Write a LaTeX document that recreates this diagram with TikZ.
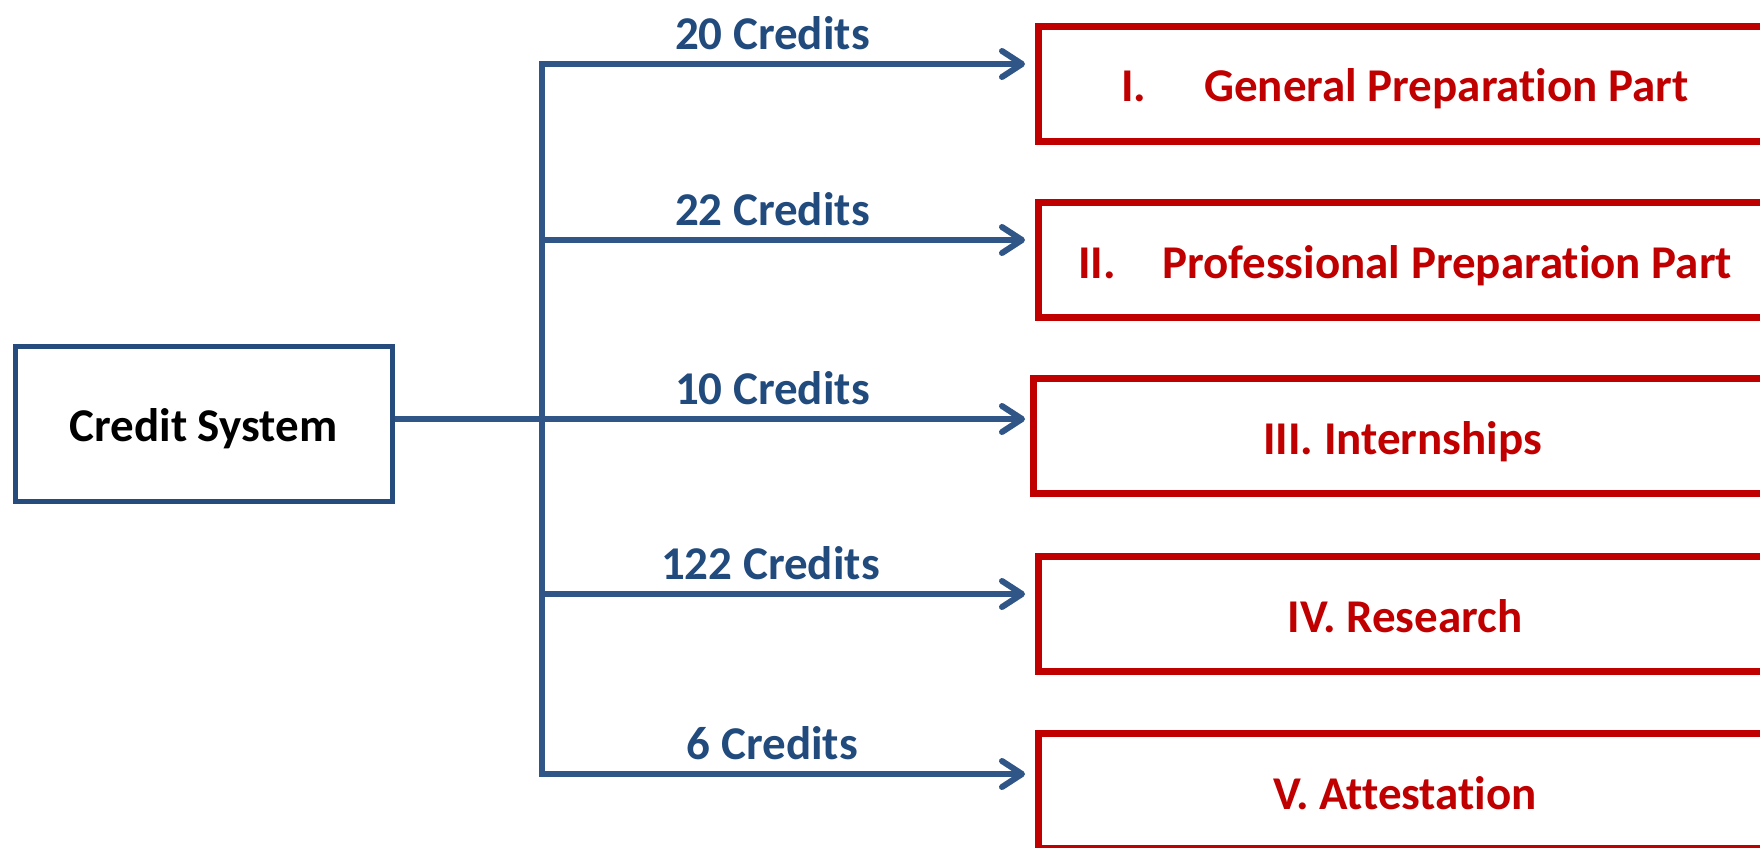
\documentclass[tikz,border=0pt]{standalone}
\usepackage{fontspec}
\setmainfont{Carlito}[Ligatures={NoCommon}]
\usetikzlibrary{arrows.meta}
\definecolor{navy}{RGB}{37,76,124}
\definecolor{conncol}{RGB}{48,86,136}
\definecolor{lblcol}{RGB}{33,74,125}
\definecolor{darkred}{RGB}{192,0,0}
\tikzset{
  bigfont/.style={font=\fontsize{47}{56}\selectfont\bfseries},
  srcbox/.style={draw=navy, line width=5pt, rectangle, minimum width=377pt, minimum height=155pt, inner sep=0pt, text height=36pt, text depth=0pt, bigfont, text=black},
  partbox/.style={draw=darkred, line width=7pt, rectangle, minimum height=115pt, inner sep=0pt, text height=36pt, text depth=0pt, bigfont, text=darkred},
  conn/.style={draw=conncol, line width=6pt},
  arr/.style={conn, -{Straight Barb[length=20pt, width=26pt, line cap=round, line join=round]}},
  lbl/.style={bigfont, text=lblcol, anchor=base, yshift=15pt, inner sep=0pt}
}
\begin{document}
\begin{tikzpicture}[x=1pt, y=-1pt]
\useasboundingbox (0,0) rectangle (1760,847);
\clip (0,0) rectangle (1760,847);
% source
\node[srcbox] (cs) at (203.5,423.5) {Credit System};
% target boxes
\node[partbox, minimum width=734pt] (b1) at (1405,83.5) {\makebox[83pt][l]{I.}General Preparation Part};
\node[partbox, minimum width=734pt] (b2) at (1405,260) {\makebox[84pt][l]{II.}Professional Preparation Part};
\node[partbox, minimum width=739pt] (b3) at (1402.5,436) {III. Internships};
\node[partbox, minimum width=734pt] (b4) at (1405,614) {IV. Research};
\node[partbox, minimum width=734pt] (b5) at (1405,791) {V. Attestation};
% junctions on the trunk
\coordinate (v1) at (542,64);
\coordinate (v2) at (542,240);
\coordinate (v3) at (542,419);
\coordinate (v4) at (542,594);
\coordinate (v5) at (542,774);
% arrow tips
\coordinate (t1) at (1025,64);
\coordinate (t2) at (1025,240);
\coordinate (t3) at (1025,419);
\coordinate (t4) at (1025,594);
\coordinate (t5) at (1025,774);
% trunk
\draw[conn, line cap=rect] (v1) -- (v5);
\draw[conn] (cs.east |- v3) -- (v3);
% branches
\draw[arr] (v1) -- node[lbl, pos=0.477] {20 Credits} (t1);
\draw[arr] (v2) -- node[lbl, pos=0.477] {22 Credits} (t2);
\draw[arr] (v3) -- node[lbl, pos=0.477] {10 Credits} (t3);
\draw[arr] (v4) -- node[lbl, pos=0.473] {122 Credits} (t4);
\draw[arr] (v5) -- node[lbl, pos=0.477] {6 Credits} (t5);
\end{tikzpicture}
\end{document}
